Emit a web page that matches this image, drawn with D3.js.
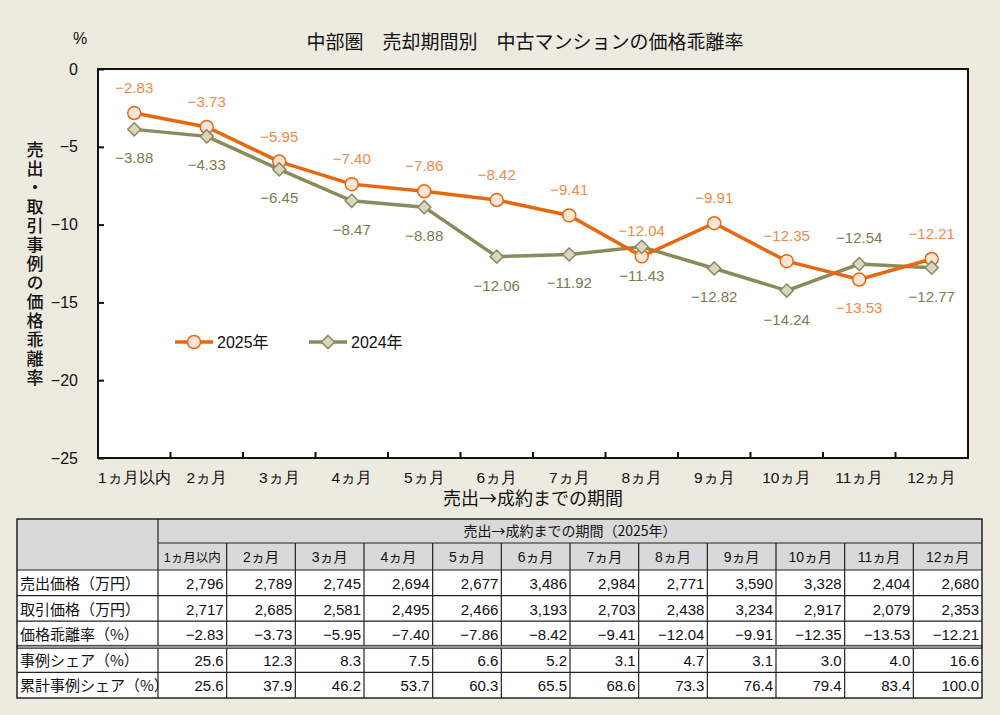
<!DOCTYPE html>
<html>
<head>
<meta charset="utf-8">
<script src="https://cdn.jsdelivr.net/npm/d3@7"></script>
<style>
  body { margin: 0; background: #edeae0; }
  svg { display: block; font-family: "Liberation Sans", "Noto Sans CJK JP", sans-serif; }
</style>
</head>
<body>
<svg id="chart" width="1000" height="715"></svg>
<script>
// data
const months = ["1ヵ月以内", "2ヵ月", "3ヵ月", "4ヵ月", "5ヵ月", "6ヵ月", "7ヵ月", "8ヵ月", "9ヵ月", "10ヵ月", "11ヵ月", "12ヵ月"];
const rate2025 = [-2.83, -3.73, -5.95, -7.40, -7.86, -8.42, -9.41, -12.04, -9.91, -12.35, -13.53, -12.21];
const rate2024 = [-3.88, -4.33, -6.45, -8.47, -8.88, -12.06, -11.92, -11.43, -12.82, -14.24, -12.54, -12.77];
const listPrice = [2796, 2789, 2745, 2694, 2677, 3486, 2984, 2771, 3590, 3328, 2404, 2680];
const dealPrice = [2717, 2685, 2581, 2495, 2466, 3193, 2703, 2438, 3234, 2917, 2079, 2353];
const caseShare = [25.6, 12.3, 8.3, 7.5, 6.6, 5.2, 3.1, 4.7, 3.1, 3.0, 4.0, 16.6];
const cumShare = [25.6, 37.9, 46.2, 53.7, 60.3, 65.5, 68.6, 73.3, 76.4, 79.4, 83.4, 100.0];
const yTicks = [0, -5, -10, -15, -20, -25];
const rowNames = ["売出価格（万円）", "取引価格（万円）", "価格乖離率（%）", "事例シェア（%）", "累計事例シェア（%）"];

const orange = "#e8680f", orangeText = "#f08a45", orangeFill = "#fce4d6";
const olive = "#8c8a5c", oliveText = "#7d7a52", oliveFill = "#d9d6c0";
const cjk = "Noto Sans CJK JP, sans-serif";

const svg = d3.select("#chart");
const plot = { left: 98, right: 968, top: 69, bottom: 458 };

const x = d3.scaleBand().domain(months).range([plot.left, plot.right]);
const y = d3.scaleLinear().domain([-25, 0]).range([plot.bottom, plot.top]);
const fmt2 = d3.format(".2f");

// title
svg.append("text").attr("x", 525).attr("y", 49).attr("text-anchor", "middle")
  .attr("font-size", 19).attr("fill", "#111").attr("font-family", cjk)
  .text("中部圏　売却期間別　中古マンションの価格乖離率");
svg.append("text").attr("x", 80).attr("y", 44).attr("text-anchor", "middle")
  .attr("font-size", 16).attr("fill", "#111").text("%");

// plot background
svg.append("rect").attr("x", plot.left).attr("y", plot.top)
  .attr("width", plot.right - plot.left).attr("height", plot.bottom - plot.top)
  .attr("fill", "#fff").attr("stroke", "#111").attr("stroke-width", 2);

// y axis
const yAxis = svg.append("g").attr("transform", "translate(" + plot.left + ",0)")
  .call(d3.axisLeft(y).tickValues(yTicks).tickSizeInner(-6).tickSizeOuter(0).tickPadding(20));
yAxis.select(".domain").remove();
yAxis.selectAll("line").attr("stroke", "#111").attr("stroke-width", 2);
yAxis.selectAll("text").attr("font-size", 16).attr("fill", "#111")
  .attr("font-family", "Liberation Sans, sans-serif");

// x axis labels + ticks at band edges
const xAxis = svg.append("g").attr("transform", "translate(0," + plot.bottom + ")")
  .call(d3.axisBottom(x).tickSize(0).tickPadding(14));
xAxis.select(".domain").remove();
xAxis.selectAll("text").attr("font-size", 15.5).attr("fill", "#111");
svg.append("g").selectAll("line").data(months.slice(1)).join("line")
  .attr("x1", d => x(d)).attr("x2", d => x(d))
  .attr("y1", plot.bottom).attr("y2", plot.bottom - 6)
  .attr("stroke", "#111").attr("stroke-width", 2);

// axis titles
svg.append("text").attr("x", 533).attr("y", 505).attr("text-anchor", "middle")
  .attr("font-size", 18).attr("fill", "#111").attr("font-family", cjk).text("売出→成約までの期間");
svg.append("text").attr("transform", "translate(35,141)")
  .attr("writing-mode", "vertical-rl").attr("font-size", 17).attr("letter-spacing", 2)
  .attr("font-family", cjk).attr("font-weight", 500).attr("fill", "#111").text("売出・取引事例の価格乖離率");

const cx = d => x(d) + x.bandwidth() / 2;
const line = d3.line().x(d => cx(d.m)).y(d => y(d.v));
const s25 = months.map((m, i) => ({ m: m, v: rate2025[i], i: i }));
const s24 = months.map((m, i) => ({ m: m, v: rate2024[i], i: i }));

// 2024 series
svg.append("path").datum(s24).attr("d", line)
  .attr("fill", "none").attr("stroke", olive).attr("stroke-width", 3.5);
// 2025 series
svg.append("path").datum(s25).attr("d", line)
  .attr("fill", "none").attr("stroke", orange).attr("stroke-width", 3.5);

svg.append("g").selectAll("circle").data(s25).join("circle")
  .attr("cx", d => cx(d.m)).attr("cy", d => y(d.v)).attr("r", 6.5)
  .attr("fill", orangeFill).attr("stroke", orange).attr("stroke-width", 1.5);

const diamond = d3.symbol().type(d3.symbolDiamond2).size(110);
svg.append("g").selectAll("path").data(s24).join("path")
  .attr("transform", d => "translate(" + cx(d.m) + "," + y(d.v) + ")")
  .attr("d", diamond).attr("fill", oliveFill).attr("stroke", olive).attr("stroke-width", 1.5);

// data labels: 2025 above, 2024 below (flipped at 11ヵ月)
const flip = [10];
svg.append("g").selectAll("text").data(s25).join("text")
  .attr("x", d => cx(d.m))
  .attr("y", d => y(d.v) + (flip.includes(d.i) ? 33 : -20))
  .attr("text-anchor", "middle").attr("font-size", 15).attr("fill", orangeText)
  .text(d => fmt2(d.v));
svg.append("g").selectAll("text").data(s24).join("text")
  .attr("x", d => cx(d.m))
  .attr("y", d => y(d.v) + (flip.includes(d.i) ? -21 : 34))
  .attr("text-anchor", "middle").attr("font-size", 15).attr("fill", oliveText)
  .text(d => fmt2(d.v));

// legend
const leg = svg.append("g").attr("transform", "translate(175,342)");
leg.append("line").attr("x1", 0).attr("x2", 38).attr("stroke", orange).attr("stroke-width", 3.5);
leg.append("circle").attr("cx", 19).attr("r", 6.5).attr("fill", orangeFill).attr("stroke", orange).attr("stroke-width", 1.5);
leg.append("text").attr("x", 42).attr("y", 6).attr("font-size", 16).attr("fill", "#111").text("2025年");
leg.append("line").attr("x1", 134).attr("x2", 172).attr("stroke", olive).attr("stroke-width", 3.5);
leg.append("path").attr("transform", "translate(153,0)").attr("d", diamond)
  .attr("fill", oliveFill).attr("stroke", olive).attr("stroke-width", 1.5);
leg.append("text").attr("x", 176).attr("y", 6).attr("font-size", 16).attr("fill", "#111").text("2024年");

// table
const tab = { left: 17, labelW: 141, top: 519, h1: 24, h2: 27, rowH: 25.6 };
const colX = d3.scaleBand().domain(months).range([tab.left + tab.labelW, 982]);
const rows = [
  listPrice.map(d3.format(",")),
  dealPrice.map(d3.format(",")),
  rate2025.map(fmt2),
  caseShare.map(d3.format(".1f")),
  cumShare.map(d3.format(".1f"))
];
const t = svg.append("g").attr("font-size", 14).attr("fill", "#111");
const bodyTop = tab.top + tab.h1 + tab.h2;
const tabBottom = bodyTop + tab.rowH * rows.length;

// header backgrounds
t.append("rect").attr("x", tab.left).attr("y", tab.top).attr("width", 982 - tab.left)
  .attr("height", tab.h1 + tab.h2).attr("fill", "#d9d9d9");
t.append("rect").attr("x", tab.left).attr("y", bodyTop).attr("width", 982 - tab.left)
  .attr("height", tabBottom - bodyTop).attr("fill", "#fff");

t.append("text").attr("x", (tab.left + tab.labelW + 982) / 2).attr("y", tab.top + 17)
  .attr("text-anchor", "middle").attr("font-size", 14).attr("font-family", cjk)
  .text("売出→成約までの期間（2025年）");

t.selectAll(".mh").data(months).join("text").attr("class", "mh")
  .attr("x", d => colX(d) + colX.bandwidth() / 2).attr("y", tab.top + tab.h1 + 19)
  .attr("text-anchor", "middle")
  .attr("font-size", (d, i) => i === 0 ? 12.5 : 14).text(d => d);

rows.forEach((r, ri) => {
  const yy = bodyTop + tab.rowH * ri;
  t.append("text").attr("x", tab.left + 3).attr("y", yy + 19).attr("font-size", 15)
    .attr("font-family", cjk).text(rowNames[ri]);
  t.selectAll(".r" + ri).data(r).join("text").attr("class", "r" + ri)
    .attr("x", (d, i) => colX(months[i]) + colX.bandwidth() - 3).attr("y", yy + 19)
    .attr("text-anchor", "end").attr("font-size", 15).text(d => d);
});

// grid lines
const g = t.append("g").attr("stroke", "#222").attr("stroke-width", 1.2);
g.append("line").attr("x1", tab.left + tab.labelW).attr("x2", 982)
  .attr("y1", tab.top + tab.h1).attr("y2", tab.top + tab.h1);
d3.range(rows.length).forEach(ri => {
  const yy = bodyTop + tab.rowH * ri;
  g.append("line").attr("x1", tab.left).attr("x2", 982).attr("y1", yy).attr("y2", yy);
});
months.forEach((m, i) => {
  if (i === 0) return;
  g.append("line").attr("x1", colX(m)).attr("x2", colX(m))
    .attr("y1", tab.top + tab.h1).attr("y2", tabBottom);
});
g.append("line").attr("x1", tab.left + tab.labelW).attr("x2", tab.left + tab.labelW)
  .attr("y1", tab.top).attr("y2", tabBottom);
// double line before share rows
const dy = bodyTop + tab.rowH * 3;
t.append("rect").attr("x", tab.left).attr("y", dy - 1.5).attr("width", 982 - tab.left).attr("height", 3)
  .attr("fill", "#999").attr("stroke", "#222").attr("stroke-width", 0.8);
t.append("rect").attr("x", tab.left).attr("y", tab.top).attr("width", 982 - tab.left)
  .attr("height", tabBottom - tab.top).attr("fill", "none").attr("stroke", "#222").attr("stroke-width", 1.5);
</script>
</body>
</html>
